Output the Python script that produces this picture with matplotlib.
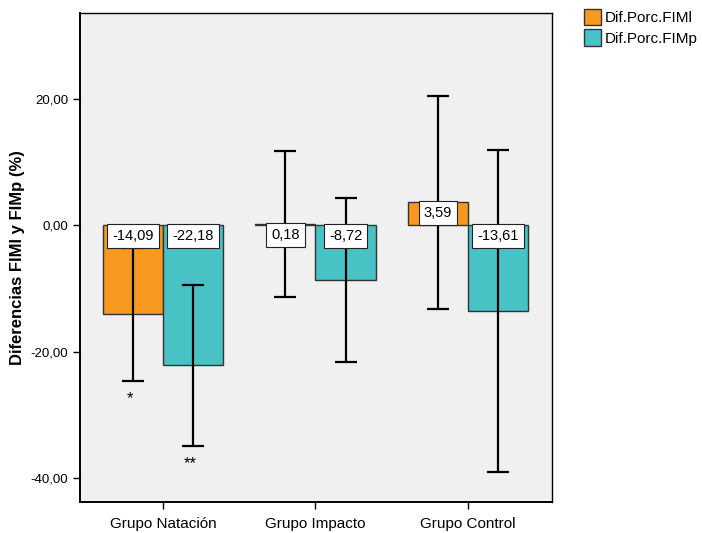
import numpy as np
import matplotlib.pyplot as plt
from matplotlib.patches import Patch

plt.rcParams['font.family'] = ['Liberation Sans', 'DejaVu Sans']

# Datos: medias y semiamplitud de los intervalos
grupos = ['Grupo Natación', 'Grupo Impacto', 'Grupo Control']
fiml = [-14.09, 0.18, 3.59]
fimp = [-22.18, -8.72, -13.61]
err_fiml = [10.55, 11.6, 16.8]
err_fimp = [12.7, 13.0, 25.5]
series = ['Dif.Porc.FIMl', 'Dif.Porc.FIMp']
colores = ['#F7991F', '#48C2C5']
marcas = {(0, 0): '*', (0, 1): '**'}

fig = plt.figure(figsize=(7.02, 5.33), dpi=100)
ax = fig.add_axes([0.114, 0.058, 0.672, 0.917])
ax.set_facecolor('#F0F0F0')

x = np.arange(len(grupos))
ancho = 0.395
for j, (vals, errs) in enumerate([(fiml, err_fiml), (fimp, err_fimp)]):
    pos = x + (j - 0.5) * ancho
    ax.bar(pos, vals, width=ancho, color=colores[j], edgecolor='#333333',
           linewidth=1, zorder=2)
    ax.errorbar(pos, vals, yerr=errs, fmt='none', ecolor='black',
                elinewidth=1.6, capsize=8, capthick=1.6, zorder=3)
    for i, (p, v, e) in enumerate(zip(pos, vals, errs)):
        ax.text(p, max(v, 0) - 0.62, f'{v:.2f}'.replace('.', ','),
                ha='center', va='top', fontsize=10.5, zorder=4,
                bbox=dict(boxstyle='square,pad=0.34', fc='white',
                          ec='#222222', lw=0.8))
        if (i, j) in marcas:
            ax.text(p - 0.02, v - e - 1.6, marcas[(i, j)], ha='center',
                    va='top', fontsize=12)

ax.set_xlim(-0.544, 2.55)
ax.set_ylim(-43.8, 33.5)
ax.set_xticks(x)
ax.set_xticklabels(grupos, fontsize=11)
ax.set_yticks([-40, -20, 0, 20])
ax.set_yticklabels(['-40,00', '-20,00', '0,00', '20,00'], fontsize=9.5)
ax.tick_params(axis='both', direction='out', length=5, width=1, colors='black')
ax.tick_params(axis='x', pad=6)
ax.set_ylabel('Diferencias FIMl y FIMp (%)', fontsize=12, fontweight='bold',
              labelpad=4)
for s in ax.spines.values():
    s.set_linewidth(1)
ax.spines['left'].set_linewidth(1.4)
ax.spines['bottom'].set_linewidth(1.4)

handles = [Patch(facecolor=c, edgecolor='#333333', label=l)
           for c, l in zip(colores, series)]
fig.legend(handles=handles, loc='upper left', bbox_to_anchor=(0.823, 0.995),
           frameon=False, fontsize=11, handlelength=1.1, handleheight=1.3,
           handletextpad=0.3, labelspacing=0.25, borderaxespad=0)

fig.savefig('out.png', dpi=100)
